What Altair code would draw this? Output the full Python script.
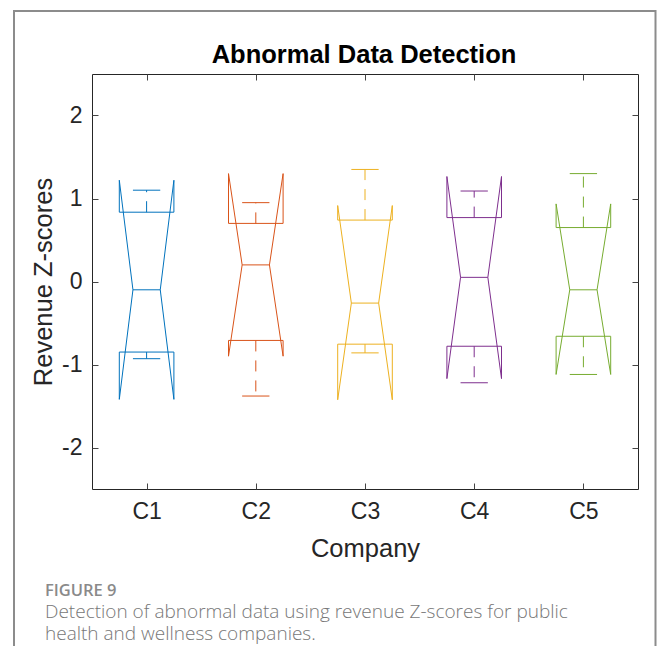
import altair as alt
import pandas as pd

# ---- data ----
companies = ["C1", "C2", "C3", "C4", "C5"]
median = [-0.10, 0.20, -0.26, 0.05, -0.10]
q1 = [-0.85, -0.71, -0.755, -0.78, -0.66]
q3 = [0.835, 0.70, 0.74, 0.77, 0.65]
whisker_lo = [-0.93, -1.38, -0.86, -1.22, -1.12]
whisker_hi = [1.10, 0.95, 1.35, 1.09, 1.30]
notch_lo = [-1.42, -0.90, -1.425, -1.17, -1.12]
notch_hi = [1.22, 1.30, 0.915, 1.265, 0.935]
colors = ["#0072BD", "#D95319", "#EDB120", "#7E2F8E", "#77AC30"]
y_ticks = [-2, -1, 0, 1, 2]
title_text = ["Abnormal Data Detection"]
fig_label = ["FIGURE 9"]
caption_lines = ["Detection of abnormal data using revenue Z-scores for public",
                 "health and wellness companies."]

W = 0.25   # box half width (category units)
WI = 0.125  # notch/cap half width

# notched outline (MATLAB style) per company
rows = []
for k, c in enumerate(companies):
    i = k + 1
    pts = [(i - W, q1[k]), (i - W, notch_lo[k]), (i - WI, median[k]),
           (i - W, notch_hi[k]), (i - W, q3[k]), (i + W, q3[k]),
           (i + W, notch_hi[k]), (i + WI, median[k]), (i + W, notch_lo[k]),
           (i + W, q1[k]), (i - W, q1[k])]
    for o, (x, y) in enumerate(pts):
        rows.append({"company": c, "x": x, "y": y, "o": o})
outline = pd.DataFrame(rows)

stats = pd.DataFrame({
    "company": companies,
    "pos": [k + 1 for k in range(len(companies))],
    "median": median, "q1": q1, "q3": q3,
    "lo": whisker_lo, "hi": whisker_hi,
})
stats["xl"] = stats["pos"] - WI
stats["xr"] = stats["pos"] + WI

FONT = "Liberation Sans"
xscale = alt.Scale(domain=[0.5, 5.5], nice=False, zero=False)
yscale = alt.Scale(domain=[-2.5, 2.5], nice=False, zero=False)
cscale = alt.Scale(domain=companies, range=colors)

tick_common = dict(domain=False, grid=False, ticks=True, tickSize=6, offset=-6,
                   tickColor="#444444", tickWidth=1)
label_common = dict(labelFont=FONT, labelFontSize=23, labelColor="#262626",
                    titleFont=FONT, titleFontSize=25.5, titleColor="#262626",
                    titleFontWeight="normal", titleBaseline="alphabetic")

x_axis = alt.Axis(values=[1, 2, 3, 4, 5], labelExpr="'C' + datum.value",
                  title="Company", labelPadding=11, titleY=73,
                  **tick_common, **label_common)
y_axis = alt.Axis(values=y_ticks, labelExpr="'' + datum.value",
                  title="Revenue Z-scores", labelPadding=10, titleX=-47,
                  titleY=207.5, titleAngle=-90, **tick_common, **label_common)
x_top = alt.Axis(orient="top", values=[1, 2, 3, 4, 5], labels=False, title=None,
                 **tick_common)
y_right = alt.Axis(orient="right", values=y_ticks, labels=False, title=None,
                   **tick_common)

color_enc = alt.Color("company:N", scale=cscale, legend=None)

box = alt.Chart(outline).mark_line(strokeWidth=1, clip=False).encode(
    x=alt.X("x:Q", scale=xscale, axis=x_axis),
    y=alt.Y("y:Q", scale=yscale, axis=y_axis),
    order="o:Q",
    detail="company:N",
    color=color_enc,
)

whisk_up = alt.Chart(stats).mark_rule(strokeWidth=1, strokeDash=[11, 9]).encode(
    x=alt.X("pos:Q", scale=xscale, axis=x_top),
    y=alt.Y("q3:Q", scale=yscale, axis=y_right),
    y2="hi:Q",
    color=color_enc,
)
whisk_dn = alt.Chart(stats).mark_rule(strokeWidth=1, strokeDash=[11, 9]).encode(
    x=alt.X("pos:Q", scale=xscale, axis=None),
    y=alt.Y("q1:Q", scale=yscale, axis=None),
    y2="lo:Q",
    color=color_enc,
)
cap_up = alt.Chart(stats).mark_rule(strokeWidth=1).encode(
    x=alt.X("xl:Q", scale=xscale, axis=None), x2="xr:Q",
    y=alt.Y("hi:Q", scale=yscale, axis=None),
    color=color_enc,
)
cap_dn = alt.Chart(stats).mark_rule(strokeWidth=1).encode(
    x=alt.X("xl:Q", scale=xscale, axis=None), x2="xr:Q",
    y=alt.Y("lo:Q", scale=yscale, axis=None),
    color=color_enc,
)
med = alt.Chart(stats).mark_rule(strokeWidth=1).encode(
    x=alt.X("xl:Q", scale=xscale, axis=None), x2="xr:Q",
    y=alt.Y("median:Q", scale=yscale, axis=None),
    color=color_enc,
)

# title as text above the plot
title = alt.Chart(pd.DataFrame({"t": title_text})).mark_text(
    align="center", baseline="alphabetic", font=FONT, fontSize=25.5,
    fontWeight="bold", color="black").encode(
    x=alt.value(272), y=alt.value(-11.5), text="t:N")

# figure frame and caption (page decoration around the plot)
frame = alt.Chart(pd.DataFrame({"a": [0]})).mark_rect(
    filled=False, stroke="#8c8c8c", strokeWidth=2, clip=False).encode(
    x=alt.value(-78), x2=alt.value(563.5), y=alt.value(-63), y2=alt.value(720))

fig_txt = alt.Chart(pd.DataFrame({"t": fig_label})).mark_text(
    align="left", baseline="alphabetic", font="Open Sans", fontSize=16.5,
    fontWeight=600, color="#8a8a8a").encode(
    x=alt.value(-47), y=alt.value(522), text="t:N")

cap1 = alt.Chart(pd.DataFrame({"t": caption_lines[:1]})).mark_text(
    align="left", baseline="alphabetic", font="Open Sans", fontSize=19,
    fontWeight=300, color="#777777").encode(
    x=alt.value(-47), y=alt.value(544), text="t:N")
cap2 = alt.Chart(pd.DataFrame({"t": caption_lines[1:]})).mark_text(
    align="left", baseline="alphabetic", font="Open Sans", fontSize=19,
    fontWeight=300, color="#777777").encode(
    x=alt.value(-47), y=alt.value(566), text="t:N")

chart = alt.layer(box, whisk_up, whisk_dn, cap_up, cap_dn, med,
                  title, frame, fig_txt, cap1, cap2).resolve_axis(
    x="independent", y="independent").properties(
    width=546, height=415,
    background="white",
    autosize=alt.AutoSizeParams(type="none"),
    padding={"left": 92, "top": 74, "right": 19, "bottom": 157},
).configure_view(stroke="#262626", strokeWidth=1)

chart.save("out.html", embed_options={"renderer": "svg", "actions": False})
